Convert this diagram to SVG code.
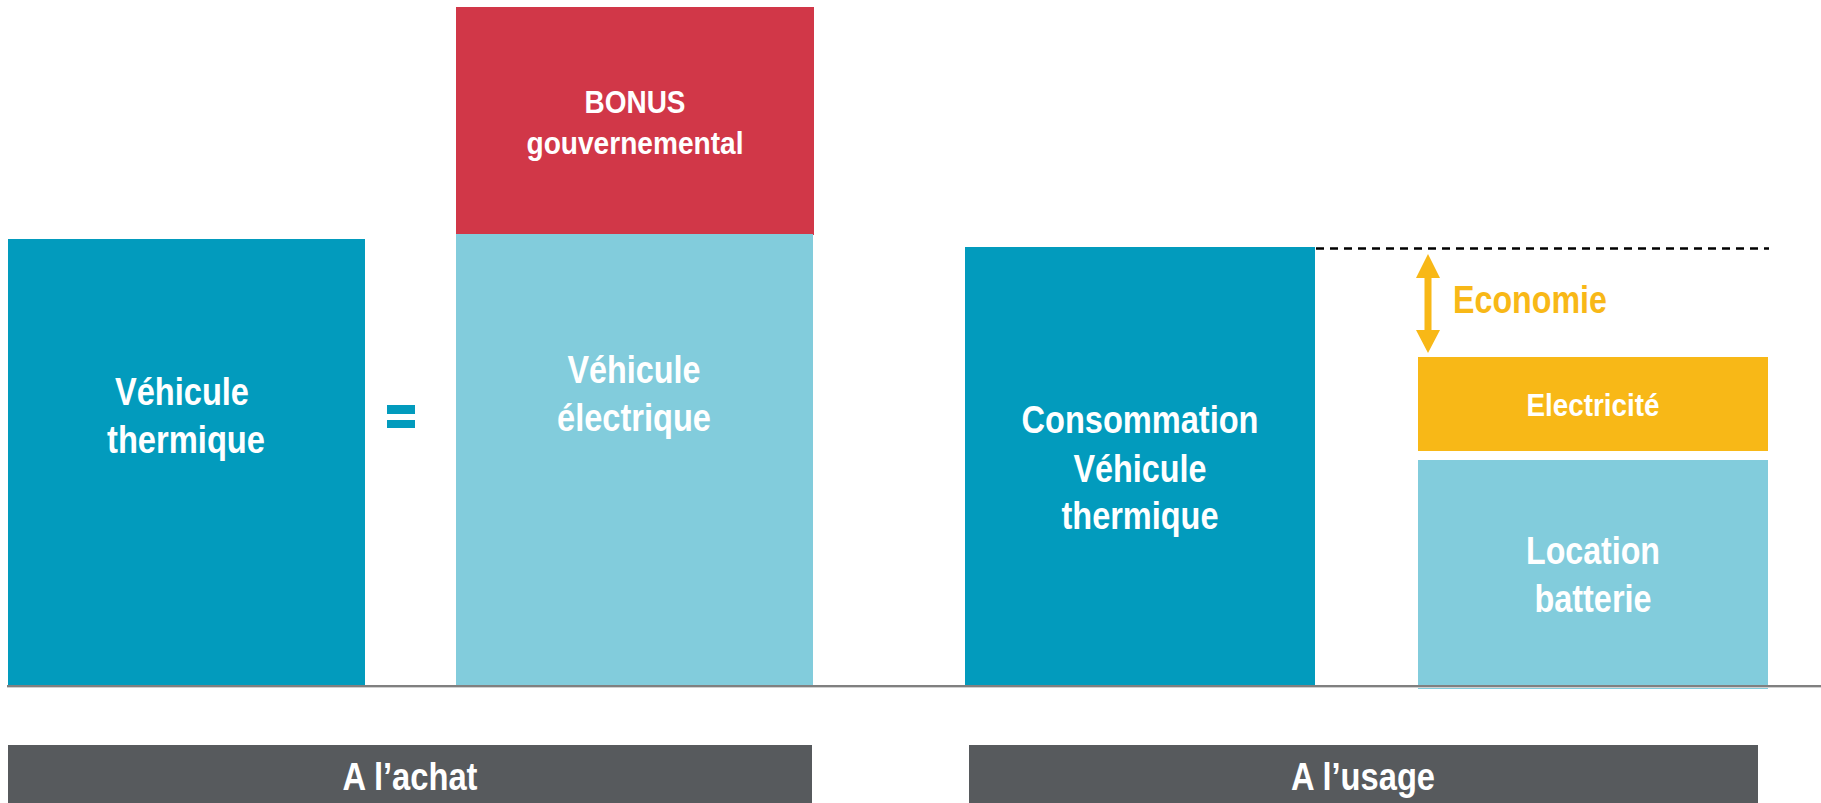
<svg xmlns="http://www.w3.org/2000/svg" width="1821" height="803" viewBox="0 0 1821 803">
<defs>
<style>
text{font-family:"Liberation Sans",Arial,sans-serif;font-weight:bold;text-anchor:middle;fill:#fff}
.l{font-size:38px}
.s{font-size:32px}
.teal{fill:#029BBD}
.light{fill:#82CCDC}
.red{fill:#D13748}
.orange{fill:#F8B817}
.bar{fill:#575A5D}
.eco{fill:#F8B817;text-anchor:start}
</style>
</defs>
<rect width="1821" height="803" fill="#fff"/>
<g id="vehicule-thermique">
<rect class="teal" x="8" y="239" width="357" height="448"/>
<text class="l" x="182" y="405" textLength="134" lengthAdjust="spacingAndGlyphs">Véhicule</text>
<text class="l" x="186" y="453" textLength="158" lengthAdjust="spacingAndGlyphs">thermique</text>
</g>
<g id="equals">
<rect class="teal" x="387" y="405" width="28" height="9"/>
<rect class="teal" x="387" y="420" width="28" height="8"/>
</g>
<g id="bonus">
<rect class="red" x="456" y="7" width="358" height="228"/>
<text class="s" x="635" y="113" textLength="101" lengthAdjust="spacingAndGlyphs">BONUS</text>
<text class="s" x="635" y="154" textLength="217" lengthAdjust="spacingAndGlyphs">gouvernemental</text>
</g>
<g id="vehicule-electrique">
<rect class="light" x="456" y="234" width="357" height="453"/>
<text class="l" x="634" y="383" textLength="133" lengthAdjust="spacingAndGlyphs">Véhicule</text>
<text class="l" x="634" y="431" textLength="154" lengthAdjust="spacingAndGlyphs">électrique</text>
</g>
<g id="consommation">
<rect class="teal" x="965" y="247" width="350" height="440"/>
<text class="l" x="1140" y="433" textLength="237" lengthAdjust="spacingAndGlyphs">Consommation</text>
<text class="l" x="1140" y="482" textLength="133" lengthAdjust="spacingAndGlyphs">Véhicule</text>
<text class="l" x="1140" y="529" textLength="157" lengthAdjust="spacingAndGlyphs">thermique</text>
</g>
<g id="electricite">
<rect class="orange" x="1418" y="357" width="350" height="94"/>
<text class="s" x="1593" y="416" textLength="133" lengthAdjust="spacingAndGlyphs">Electricité</text>
</g>
<g id="location-batterie">
<rect class="light" x="1418" y="460" width="350" height="229"/>
<text class="l" x="1593" y="564" textLength="134" lengthAdjust="spacingAndGlyphs">Location</text>
<text class="l" x="1593" y="612" textLength="117" lengthAdjust="spacingAndGlyphs">batterie</text>
</g>
<g id="economie">
<path d="M1428 254 L1440 278 L1431.5 278 L1431.5 330 L1440 330 L1428 353 L1416 330 L1424.5 330 L1424.5 278 L1416 278 Z" fill="#F8B817"/>
<text class="l eco" x="1453" y="313" textLength="154" lengthAdjust="spacingAndGlyphs">Economie</text>
</g>
<g id="connectors">
<line x1="1316" y1="248.5" x2="1769" y2="248.5" stroke="#000" stroke-width="2.5" stroke-dasharray="8 6"/>
<line x1="7" y1="686" x2="1821" y2="686" stroke="#808080" stroke-width="2"/>
<line x1="7" y1="687.5" x2="1821" y2="687.5" stroke="#d0d0d0" stroke-width="1"/>
</g>
<g id="a-l-achat">
<rect class="bar" x="8" y="745" width="804" height="58"/>
<text class="l" x="410" y="790" textLength="135" lengthAdjust="spacingAndGlyphs">A l’achat</text>
</g>
<g id="a-l-usage">
<rect class="bar" x="969" y="745" width="789" height="58"/>
<text class="l" x="1363" y="790" textLength="144" lengthAdjust="spacingAndGlyphs">A l’usage</text>
</g>
</svg>
